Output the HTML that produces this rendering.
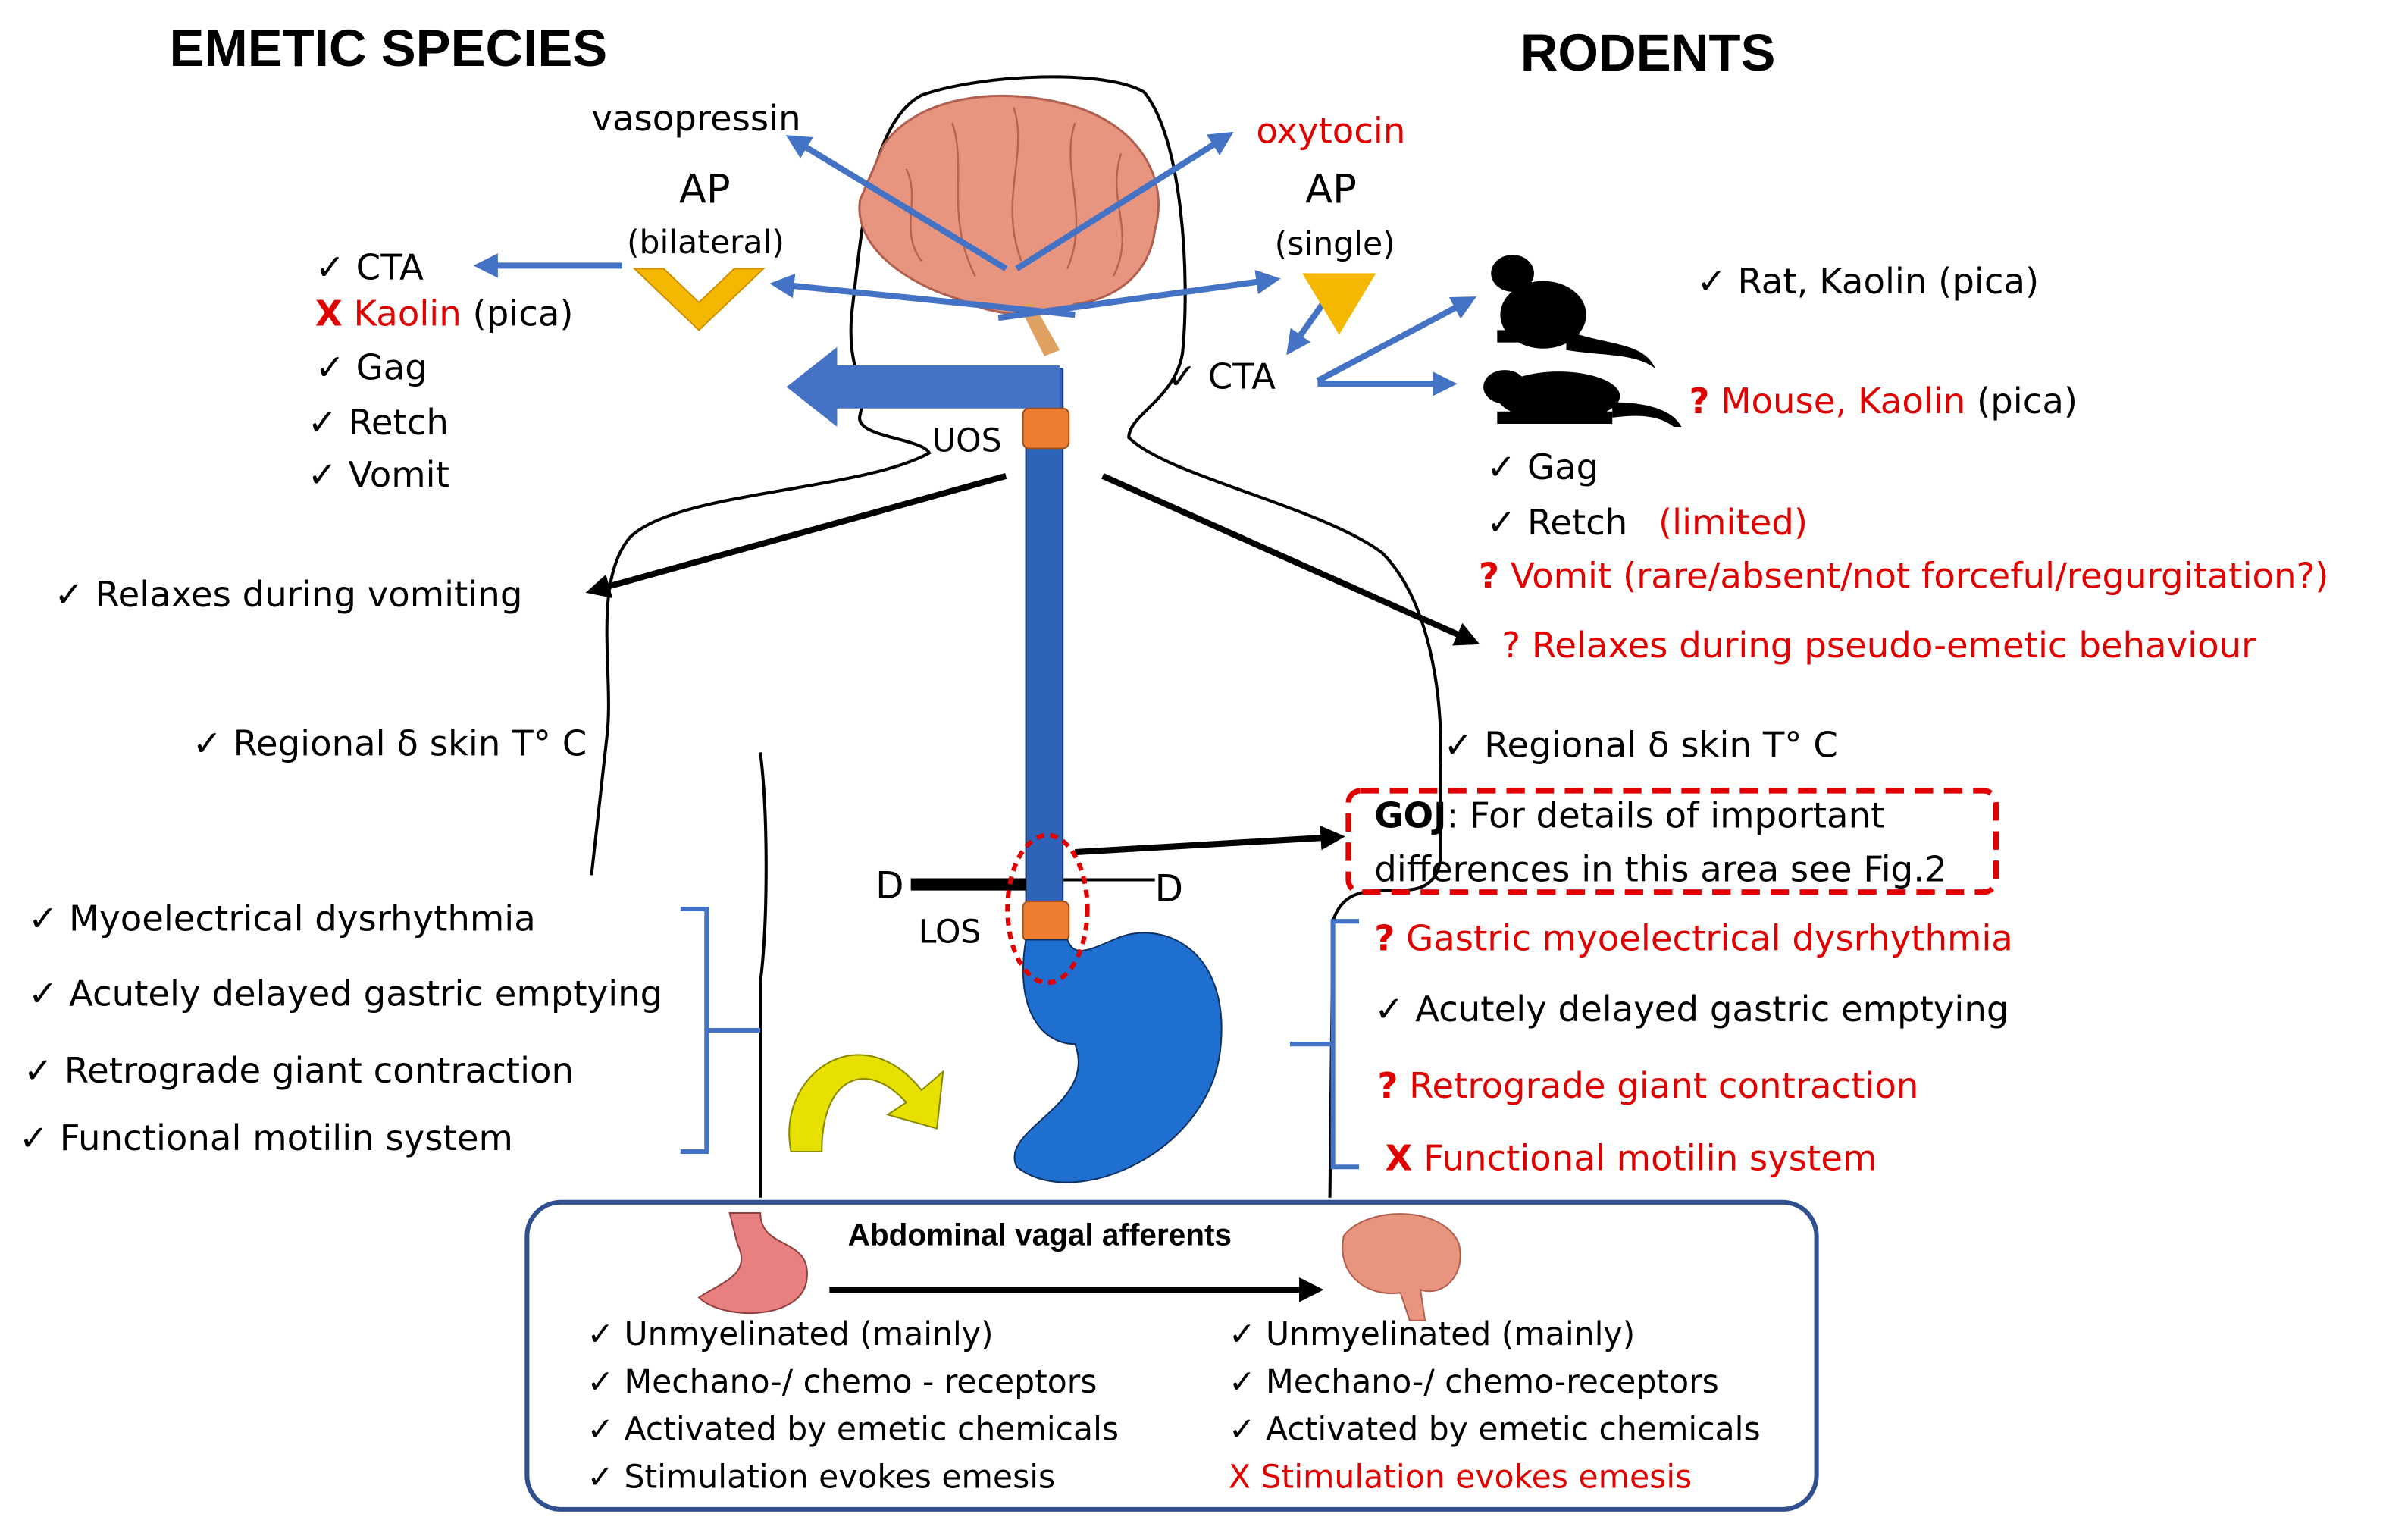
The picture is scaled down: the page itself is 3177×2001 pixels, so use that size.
<!DOCTYPE html>
<html><head><meta charset="utf-8"><style>html,body{margin:0;padding:0;background:#fff}svg{display:block}</style></head><body>
<svg xmlns="http://www.w3.org/2000/svg" width="3177" height="2001" viewBox="0 0 1568 988" font-family="'DejaVu Sans','Liberation Sans',sans-serif" font-size="23">
<defs>
<marker id="ab" markerWidth="4" markerHeight="4" refX="3" refY="2" orient="auto"><path d="M0,0L4,2L0,4z" fill="#4472c4"/></marker>
<marker id="ak" markerWidth="4" markerHeight="4" refX="3" refY="2" orient="auto"><path d="M0,0L4,2L0,4z" fill="#000"/></marker>
</defs>
<rect width="1568" height="988" fill="#fff"/>
<!-- body outline -->
<path d="M600,62 C640,48 720,45 745,60 C770,90 775,180 770,230 C765,260 735,270 735,285 C760,310 860,330 900,360 C930,390 940,450 938,500 L938,560 C932,600 880,560 868,600 L866,780" fill="none" stroke="#000" stroke-width="2"/>
<path d="M600,62 C565,80 560,160 555,200 C550,240 565,250 560,270 C555,285 600,285 605,295 C560,320 440,320 410,350 C385,380 400,440 395,480 L385,570" fill="none" stroke="#000" stroke-width="2"/>
<path d="M495,490 C500,530 500,600 495,640 L495,780" fill="none" stroke="#000" stroke-width="2"/>
<!-- brain -->
<path d="M575,95 C595,65 645,55 695,68 C740,80 762,115 752,150 C748,180 725,195 700,198 C680,210 645,205 625,195 C590,185 555,160 560,130 Z" fill="#e8957f" stroke="#b06050" stroke-width="1.5"/>
<path d="M672,196 L690,228 L680,232 L664,200 Z" fill="#e0a060"/>
<g stroke="#a05040" stroke-width="1.2" fill="none" opacity="0.7">
<path d="M590,110 C600,130 585,150 600,170"/><path d="M620,80 C630,110 615,140 635,180"/><path d="M660,70 C670,100 650,130 665,170"/><path d="M700,80 C690,110 710,140 695,175"/><path d="M730,100 C720,130 740,150 725,180"/>
</g>
<!-- brain arrows -->
<g stroke="#4472c4" stroke-width="4" fill="none" marker-end="url(#ab)">
<line x1="655" y1="175" x2="515" y2="90"/>
<line x1="662" y1="175" x2="800" y2="88"/>
<path d="M700,205 L505,185"/>
<path d="M650,207 L830,182"/>
<line x1="405" y1="173" x2="312" y2="173"/>
<line x1="862" y1="197" x2="840" y2="228"/>
<line x1="858" y1="248" x2="958" y2="195"/>
<line x1="858" y1="250" x2="945" y2="250"/>
</g>
<!-- AP shapes -->
<path d="M413,175 L455,215 L497,175 L478,175 L455,197 L432,175Z" fill="#f5b800" stroke="#d09000"/>
<path d="M848,178 L896,178 L872,218Z" fill="#f5b800"/>
<!-- esophagus -->
<rect x="668" y="240" width="24" height="360" fill="#2e63b8" stroke="#1a3a70"/>
<path d="M690,238 L545,238 L545,226 L512,252 L545,278 L545,266 L690,266Z" fill="#4472c4"/>
<rect x="666" y="266" width="30" height="26" rx="4" fill="#ed7d31" stroke="#a0501a"/>
<rect x="666" y="587" width="30" height="26" rx="4" fill="#ed7d31" stroke="#a0501a"/>
<!-- stomach -->
<path d="M668,612 C660,660 680,680 700,680 C715,720 650,735 662,760 C700,790 790,750 795,680 C800,620 760,600 730,610 C710,618 700,625 695,612Z" fill="#1f6fd0" stroke="#103060"/>
<path d="M515,750 C505,700 560,660 600,710 L614,698 L610,735 L578,726 L590,718 C565,690 535,700 535,750Z" fill="#e8e000" stroke="#888800"/>
<!-- black arrows -->
<g stroke="#000" stroke-width="4" fill="none" marker-end="url(#ak)">
<line x1="655" y1="310" x2="385" y2="385"/>
<line x1="718" y1="310" x2="960" y2="418"/>
<line x1="700" y1="555" x2="872" y2="545"/>
</g>
<line x1="593" y1="576" x2="668" y2="576" stroke="#000" stroke-width="8"/>
<line x1="692" y1="573" x2="752" y2="573" stroke="#000" stroke-width="2"/>
<ellipse cx="682" cy="592" rx="26" ry="48" fill="none" stroke="#e00000" stroke-width="3" stroke-dasharray="5,4"/>
<rect x="878" y="515" width="422" height="66" rx="8" fill="none" stroke="#e00000" stroke-width="3.5" stroke-dasharray="12,7"/>
<!-- brackets -->
<path d="M443,592 L460,592 L460,750 L443,750 M460,671 L495,671" fill="none" stroke="#4472c4" stroke-width="3"/>
<path d="M885,600 L868,600 L868,760 L885,760 M868,680 L840,680" fill="none" stroke="#4472c4" stroke-width="3"/>
<!-- bottom box -->
<rect x="343" y="783" width="840" height="200" rx="22" fill="#fff" stroke="#2f4f8f" stroke-width="3"/>
<line x1="540" y1="840" x2="858" y2="840" stroke="#000" stroke-width="4" marker-end="url(#ak)"/>
<path d="M475,790 L495,790 C495,815 530,805 525,835 C520,860 470,860 455,845 C470,835 490,830 480,810Z" fill="#e88080" stroke="#904040"/>
<path d="M875,805 C890,785 940,785 950,810 C955,830 940,845 925,840 L928,860 L918,860 L912,842 C890,845 870,830 875,805Z" fill="#e8957f" stroke="#b06050"/>
<!-- rodents -->
<g fill="#000">
<ellipse cx="1005" cy="205" rx="28" ry="22"/>
<ellipse cx="985" cy="178" rx="14" ry="12"/>
<path d="M1020,215 C1045,225 1070,222 1078,240 C1065,230 1045,232 1020,228Z"/>
<rect x="975" y="215" width="35" height="8"/>
<ellipse cx="1015" cy="258" rx="40" ry="16"/>
<ellipse cx="980" cy="252" rx="14" ry="11"/>
<path d="M1050,262 C1075,262 1090,268 1095,278 L1090,278 C1080,270 1065,270 1050,272Z"/>
<rect x="975" y="268" width="75" height="8"/>
</g>
<!-- titles -->
<g font-family="'Liberation Sans',sans-serif" font-weight="bold" font-size="34"><text x="110" y="43">EMETIC SPECIES</text><text x="990" y="46">RODENTS</text></g>
<!-- texts -->
<g fill="#000">
<text x="385" y="85">vasopressin</text>
<text x="442" y="132" font-size="26">AP</text><text x="408" y="165" font-size="21">(bilateral)</text>
<text x="850" y="132" font-size="26">AP</text><text x="830" y="166" font-size="21">(single)</text>
<text x="205" y="182">✓  CTA</text>
<text x="205" y="247">✓  Gag</text><text x="200" y="283">✓  Retch</text><text x="200" y="317">✓  Vomit</text>
<text x="607" y="294" font-size="21">UOS</text>
<text x="760" y="253">✓  CTA</text>
<text x="1105" y="191">✓  Rat, Kaolin (pica)</text>
<text x="968" y="312">✓  Gag</text><text x="968" y="348">✓  Retch</text>
<text x="35" y="395">✓  Relaxes during vomiting</text>
<text x="125" y="492">✓  Regional δ skin T° C</text>
<text x="940" y="493">✓  Regional δ skin T° C</text>
<text x="895" y="539"><tspan font-weight="bold">GOJ</tspan>: For details of important</text><text x="895" y="574">differences  in this area see Fig.2</text>
<text x="570" y="585" font-size="24">D</text><text x="752" y="587" font-size="24">D</text>
<text x="598" y="614" font-size="21">LOS</text>
<text x="18" y="606">✓  Myoelectrical dysrhythmia</text>
<text x="18" y="655">✓  Acutely delayed gastric emptying</text>
<text x="15" y="705">✓  Retrograde giant contraction</text>
<text x="12" y="749">✓  Functional motilin system</text>
<text x="895" y="665">✓  Acutely delayed gastric emptying</text>
<text x="552" y="811" font-size="20" font-weight="bold" font-family="'Liberation Sans',sans-serif">Abdominal vagal afferents</text>
<g font-size="21"><text x="382" y="876">✓   Unmyelinated (mainly)</text><text x="382" y="907">✓   Mechano-/ chemo - receptors</text><text x="382" y="938">✓   Activated by emetic chemicals</text><text x="382" y="969">✓   Stimulation evokes emesis</text>
<text x="800" y="876">✓   Unmyelinated (mainly)</text><text x="800" y="907">✓   Mechano-/ chemo-receptors</text><text x="800" y="938">✓   Activated by emetic chemicals</text></g>
</g>
<g fill="#e00000">
<text x="818" y="93">oxytocin</text>
<text x="205" y="212"><tspan font-weight="bold">X</tspan> Kaolin <tspan fill="#000">(pica)</tspan></text>
<text x="1100" y="269"><tspan font-weight="bold">?</tspan> Mouse, Kaolin <tspan fill="#000">(pica)</tspan></text>
<text x="1080" y="348">(limited)</text>
<text x="963" y="383"><tspan font-weight="bold">?</tspan>  Vomit (rare/absent/not forceful/regurgitation?)</text>
<text x="978" y="428">? Relaxes during pseudo-emetic behaviour</text>
<text x="895" y="619"><tspan font-weight="bold">?</tspan> Gastric myoelectrical dysrhythmia</text>
<text x="897" y="715"><tspan font-weight="bold">?</tspan> Retrograde giant contraction</text>
<text x="902" y="762"><tspan font-weight="bold">X</tspan> Functional motilin system</text>
<text x="800" y="969" font-size="21">X    Stimulation evokes emesis</text>
</g>
</svg>
</body></html>
